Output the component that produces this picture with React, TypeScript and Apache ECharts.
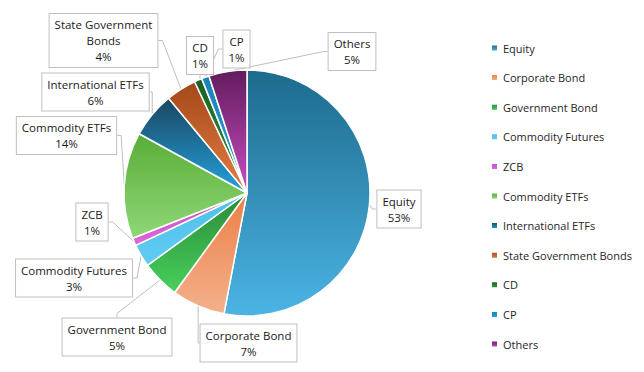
import React, { useEffect, useRef } from "react";
import * as echarts from "echarts";

const categories = [
  "Equity",
  "Corporate Bond",
  "Government Bond",
  "Commodity Futures",
  "ZCB",
  "Commodity ETFs",
  "International ETFs",
  "State Government Bonds",
  "CD",
  "CP",
  "Others",
];
const values = [53, 7, 5, 3, 1, 14, 6, 4, 1, 1, 5];

const topColors = [
  "#1d6a8c", "#ec7f45", "#2a8a38", "#4fbfe8", "#c84cc4", "#58ad38",
  "#1a4660", "#a3481a", "#1b5e24", "#1a82b8", "#621c5c",
];
const bottomColors = [
  "#4bb4e4", "#f3b18c", "#48d05c", "#60ccf4", "#dc6ad8", "#90d877",
  "#24a2de", "#e47e42", "#2e9e40", "#2aa0dc", "#c94dc2",
];

// label box centres (layout only)
const labelCenters: [number, number][] = [
  [399, 209],
  [248.5, 343],
  [117, 337],
  [74, 278],
  [92, 222],
  [66.5, 135.5],
  [95.5, 92],
  [103.5, 40.5],
  [200, 55.5],
  [236.5, 49],
  [352, 51.5],
];

const FONT = "'Open Sans', 'Noto Sans', sans-serif";

export default function App() {
  const ref = useRef<HTMLDivElement>(null);
  useEffect(() => {
    if (!ref.current) return;
    const chart = echarts.init(ref.current, undefined, { renderer: "svg" });
    const data = categories.map((name, i) => ({
      name,
      value: values[i],
      itemStyle: {
        color: new echarts.graphic.LinearGradient(0, 0, 0, 1, [
          { offset: 0, color: topColors[i] },
          { offset: 1, color: bottomColors[i] },
        ]),
      },
    }));
    chart.setOption({
      animation: false,
      backgroundColor: "#ffffff",
      legend: {
        orient: "vertical",
        left: 485,
        top: 36,
        itemWidth: 7,
        itemHeight: 7,
        itemGap: 15.6,
        icon: "rect",
        textStyle: {
          fontFamily: FONT,
          fontSize: 11,
          color: "#262626",
          lineHeight: 14,
        },
        data: categories,
      },
      series: [
        {
          type: "pie",
          center: [247, 193],
          radius: 123,
          startAngle: 90,
          clockwise: true,
          avoidLabelOverlap: false,
          itemStyle: { borderColor: "#ffffff", borderWidth: 1.5 },
          label: {
            show: true,
            position: "outside",
            formatter: (p: any) => {
              let n = p.name as string;
              if (n.length > 20) {
                const k = n.lastIndexOf(" ");
                n = n.slice(0, k) + "\n" + n.slice(k + 1);
              }
              return n + "\n" + p.value + "%";
            },
            fontFamily: FONT,
            fontSize: 11.5,
            lineHeight: 16,
            color: "#1a1a1a",
            align: "center",
            backgroundColor: "#ffffff",
            borderColor: "#bfbfbf",
            borderWidth: 1,
            padding: [3, 5, 2, 5],
          },
          labelLine: {
            show: true,
            length: 8,
            length2: 4,
            lineStyle: { color: "#bfbfbf", width: 1 },
          },
          labelLayout: (params: any) => {
            const c = labelCenters[params.dataIndex];
            return { x: c[0], y: c[1], align: "center", verticalAlign: "middle" };
          },
          emphasis: { disabled: true },
          data,
        },
      ],
    });
    return () => chart.dispose();
  }, []);
  return (
    <div
      ref={ref}
      style={{ position: "fixed", left: 0, top: 0, width: 644, height: 372 }}
    />
  );
}
